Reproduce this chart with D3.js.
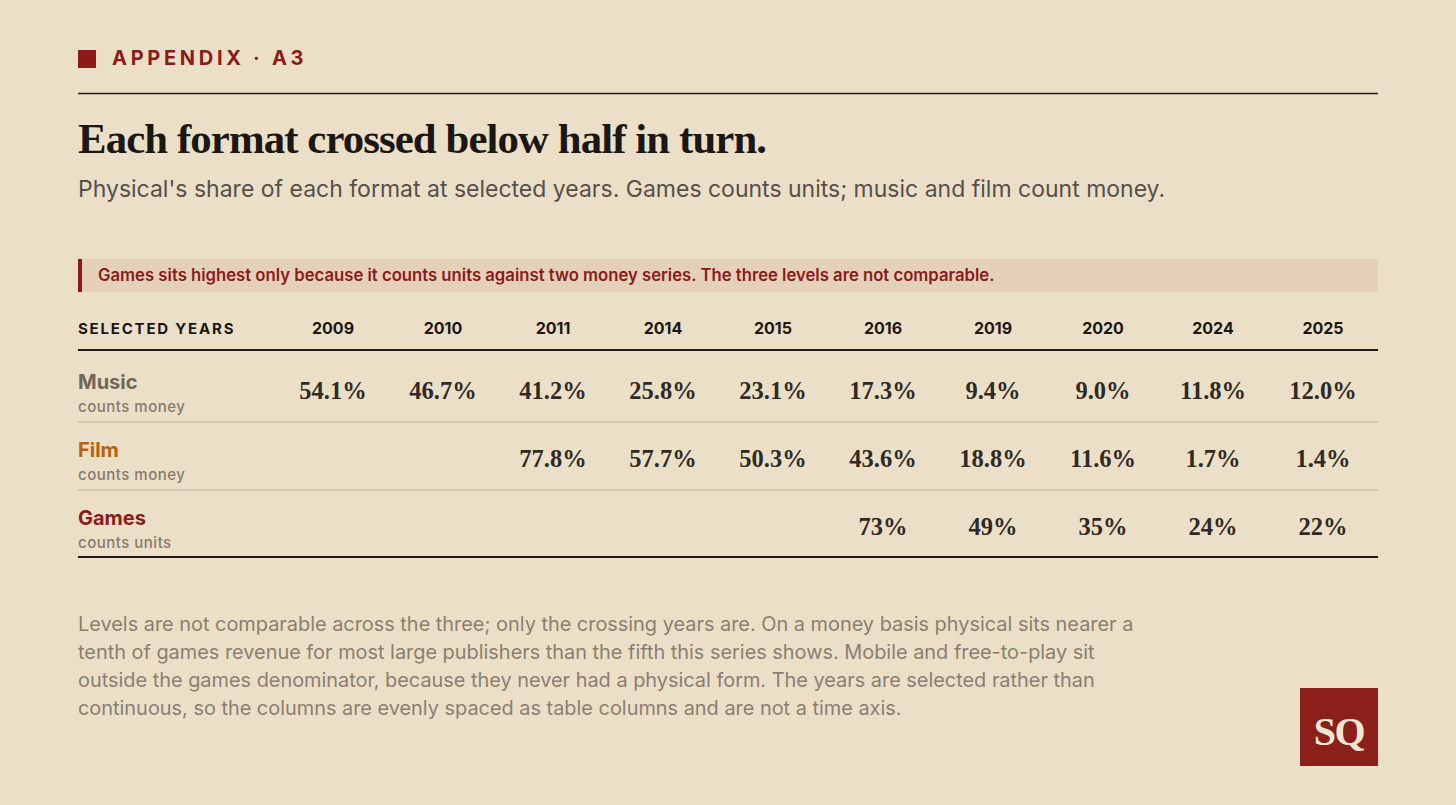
<!DOCTYPE html>
<html lang="en">

<head>
    <meta charset="UTF-8">
    <title>Appendix A3</title>
    <script src="https://d3js.org/d3.v7.min.js"></script>
    <style>
        body {
            margin: 0;
            background-color: #ECDFC8;
        }
        .sans { font-family: Inter, "Noto Sans", sans-serif; }
        .serif { font-family: "Liberation Serif", serif; }
    </style>
</head>

<body>
    <script>
        // table data
        var years = ["2009", "2010", "2011", "2014", "2015", "2016", "2019", "2020", "2024", "2025"]
        var formats = ["Music", "Film", "Games"]
        var bases = ["counts money", "counts money", "counts units"]
        var music = ["54.1%", "46.7%", "41.2%", "25.8%", "23.1%", "17.3%", "9.4%", "9.0%", "11.8%", "12.0%"]
        var film = [null, null, "77.8%", "57.7%", "50.3%", "43.6%", "18.8%", "11.6%", "1.7%", "1.4%"]
        var games = [null, null, null, null, null, "73%", "49%", "35%", "24%", "22%"]
        var notes = [
            "Levels are not comparable across the three; only the crossing years are. On a money basis physical sits nearer a",
            "tenth of games revenue for most large publishers than the fifth this series shows. Mobile and free-to-play sit",
            "outside the games denominator, because they never had a physical form. The years are selected rather than",
            "continuous, so the columns are evenly spaced as table columns and are not a time axis."
        ]

        var width = 1456
        var height = 805
        var left = 78
        var right = 1378
        var red = "#8B1A1A"
        var labelColors = ["#6E675C", "#B8610F", "#8B1A1A"]

        const svg = d3.select("body")
            .append("svg")
            .attr("width", width)
            .attr("height", height)

        svg.append("rect").attr("width", width).attr("height", height).attr("fill", "#ECDFC8")

        // kicker
        svg.append("rect")
            .attr("x", left).attr("y", 50).attr("width", 18).attr("height", 18)
            .attr("fill", red)
        svg.append("text")
            .attr("class", "sans")
            .attr("x", 112).attr("y", 65)
            .attr("font-size", 20).attr("font-weight", 700)
            .attr("letter-spacing", 3.7)
            .attr("fill", red)
            .text("APPENDIX · A3")
        svg.append("line")
            .attr("x1", left).attr("x2", right).attr("y1", 93.5).attr("y2", 93.5)
            .attr("stroke", "#1E1A16").attr("stroke-width", 1.5)

        // title + subtitle
        svg.append("text")
            .attr("class", "serif")
            .attr("x", left).attr("y", 153)
            .attr("font-size", 42.8).attr("font-weight", 700)
            .attr("letter-spacing", -0.9)
            .attr("fill", "#1A1714")
            .text("Each format crossed below half in turn.")
        svg.append("text")
            .attr("class", "sans")
            .attr("x", left).attr("y", 197)
            .attr("font-size", 23)
            .attr("fill", "#55504A")
            .text("Physical's share of each format at selected years. Games counts units; music and film count money.")

        // callout
        svg.append("rect")
            .attr("x", left).attr("y", 259).attr("width", right - left).attr("height", 33)
            .attr("fill", "#E5D0BA")
        svg.append("rect")
            .attr("x", left).attr("y", 259).attr("width", 4).attr("height", 33)
            .attr("fill", red)
        svg.append("text")
            .attr("class", "sans")
            .attr("x", 98).attr("y", 281)
            .attr("font-size", 16.7).attr("font-weight", 600)
            .attr("fill", red)
            .text("Games sits highest only because it counts units against two money series. The three levels are not comparable.")

        // scales
        var x = d3.scaleBand().domain(years).range([278, right])
        var y = d3.scaleBand().domain(formats).range([354, 558])

        // header
        svg.append("text")
            .attr("class", "sans")
            .attr("x", left).attr("y", 334)
            .attr("font-size", 15).attr("font-weight", 700)
            .attr("letter-spacing", 1.8)
            .attr("fill", "#1A1714")
            .text("SELECTED YEARS")
        svg.selectAll(".year")
            .data(years)
            .enter().append("text")
            .attr("class", "year sans")
            .attr("x", d => x(d) + x.bandwidth() / 2)
            .attr("y", 334)
            .attr("text-anchor", "middle")
            .attr("font-size", 16).attr("font-weight", 700)
            .attr("fill", "#1A1714")
            .text(d => d)
        svg.append("line")
            .attr("x1", left).attr("x2", right).attr("y1", 350).attr("y2", 350)
            .attr("stroke", "#1E1A16").attr("stroke-width", 2)

        // row separators
        svg.selectAll(".sep")
            .data(formats.slice(0, 2))
            .enter().append("line")
            .attr("x1", left).attr("x2", right)
            .attr("y1", d => y(d) + y.bandwidth())
            .attr("y2", d => y(d) + y.bandwidth())
            .attr("stroke", "#BDB19E").attr("stroke-width", 1.2)
        svg.append("line")
            .attr("x1", left).attr("x2", right).attr("y1", 557).attr("y2", 557)
            .attr("stroke", "#1E1A16").attr("stroke-width", 2)

        // row labels and values
        var rows = [music, film, games]
        formats.forEach(function (f, i) {
            var mid = y(f) + y.bandwidth() / 2
            svg.append("text")
                .attr("class", "sans")
                .attr("x", left).attr("y", mid + 1)
                .attr("font-size", 20).attr("font-weight", 700)
                .attr("fill", labelColors[i])
                .text(f)
            svg.append("text")
                .attr("class", "sans")
                .attr("x", left).attr("y", mid + 24)
                .attr("font-size", 15).attr("font-weight", 500)
                .attr("letter-spacing", 0.5)
                .attr("fill", "#857A6C")
                .text(bases[i])

            svg.selectAll(".v" + i)
                .data(rows[i].map((v, j) => ({ year: years[j], v: v })).filter(d => d.v !== null))
                .enter().append("text")
                .attr("class", "serif")
                .attr("x", d => x(d.year) + x.bandwidth() / 2)
                .attr("y", mid + 11)
                .attr("text-anchor", "middle")
                .attr("font-size", 24.5).attr("font-weight", 700)
                .attr("fill", "#2E2A25")
                .text(d => d.v)
        })

        // footnote
        svg.selectAll(".note")
            .data(notes)
            .enter().append("text")
            .attr("class", "sans")
            .attr("x", left)
            .attr("y", (d, i) => 631 + i * 28)
            .attr("font-size", 19.9)
            .attr("fill", "#8A7F70")
            .text(d => d)

        // logo
        svg.append("rect")
            .attr("x", 1300).attr("y", 688).attr("width", 78).attr("height", 78)
            .attr("fill", "#8B1F1A")
        svg.append("text")
            .attr("class", "serif")
            .attr("x", 1339).attr("y", 745)
            .attr("text-anchor", "middle")
            .attr("font-size", 40).attr("font-weight", 700)
            .attr("letter-spacing", -1.5)
            .attr("fill", "#F1E6D2")
            .text("SQ")
    </script>
</body>

</html>
